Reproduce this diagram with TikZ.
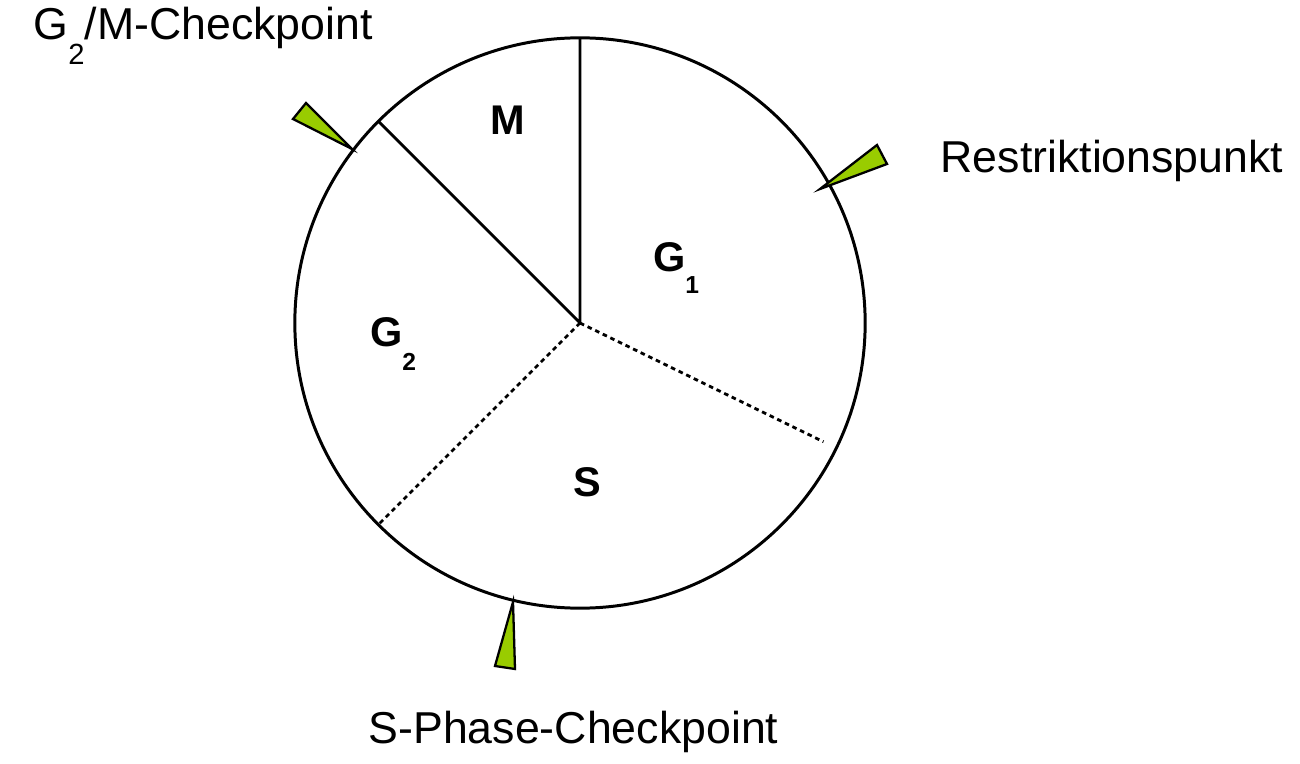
\documentclass[tikz,border=0pt]{standalone}
\usepackage{tikz}
\usetikzlibrary{calc}
\usetikzlibrary{shapes,positioning}
\usepackage{fontspec}
\setmainfont{Liberation Sans}
\definecolor{pointgreen}{RGB}{153,204,0}
\newcommand{\lowsub}[2]{\raisebox{-#1}{\fontsize{8.3}{9}\selectfont #2}}
\tikzset{
  phase/.style={font=\fontsize{11.8}{13}\selectfont\bfseries, inner sep=0pt, anchor=base},
  checklabel/.style={font=\fontsize{12.7}{15}\selectfont, inner sep=0pt, anchor=base west},
  pointer/.style={draw=black, fill=pointgreen, line width=0.65pt, line join=miter},
  border/.style={dash pattern=on 1.3pt off 1.1pt, line width=0.8pt}
}
\begin{document}
\begin{tikzpicture}[x=0.01cm,y=-0.01cm]
        \useasboundingbox (0,0) rectangle (1300,764);
        \coordinate (c) at (580,323);
        \node[circle,draw,line width=0.85pt,minimum size=5.7cm,inner sep=0pt,outer sep=0pt] (cyc) at (c) {};
        % phase borders
        \draw[line width=0.8pt] (c) -- (cyc.90) (c) -- (cyc.135);
        \coordinate (g1s) at ($(c)!0.95!(cyc.-26.4)$);
        \draw[border] (c) -- (g1s) (c) -- (cyc.-135);
        % phases
        \node[phase] (m) at (508,135) {M};
        \node[phase] (g1) at (676,272) {G\lowsub{6.2pt}{\fontsize{7}{8}\selectfont\bfseries 1}};
        \node[phase] (g2) at (393,347) {G\lowsub{6.6pt}{\fontsize{7}{8}\selectfont\bfseries 2}};
        \node[phase] (s) at (587,497) {S};
        % checkpoints
        \filldraw[pointer] (306,103) -- (293,119) -- (352,149) -- cycle;
        \filldraw[pointer] (877,145) -- (887,164) -- (820,189) -- cycle;
        \filldraw[pointer] (513,602) -- (495,666) -- (515,669) -- cycle;
        \node[checklabel] (g2m) at (33,40) {G\lowsub{7pt}{2}/M-Checkpoint};
        \node[checklabel] (rp) at (940,173) {Restriktionspunkt};
        \node[checklabel] (sp) at (368,743) {S-Phase-Checkpoint};
      \end{tikzpicture}
\end{document}
